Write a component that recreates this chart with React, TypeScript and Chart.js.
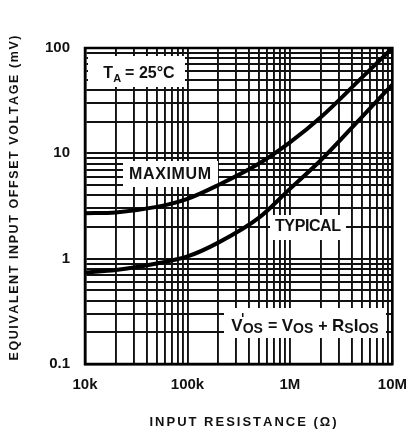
import React, { useEffect, useRef } from "react";
import { Chart, registerables } from "chart.js";

Chart.register(...registerables);

// Input resistance (Ω) sample points
const RESISTANCE = [1e4, 2e4, 5e4, 1e5, 2e5, 5e5, 1e6, 2e6, 5e6, 1e7];
// Equivalent input offset voltage (mV)
const MAXIMUM = [2.7, 2.75, 3.1, 3.7, 5.0, 8.0, 12.7, 22, 52, 100];
const TYPICAL = [0.74, 0.78, 0.9, 1.05, 1.42, 2.45, 4.6, 8.6, 22, 45];

const X_TICKS = [
  10000, 20000, 30000, 40000, 50000, 60000, 70000, 80000, 90000,
  100000, 200000, 300000, 400000, 500000, 600000, 700000, 800000, 900000,
  1000000, 2000000, 3000000, 4000000, 5000000, 6000000, 7000000, 8000000, 9000000,
  10000000,
];
const X_LABELS: Record<string, string> = {
  "10000": "10k",
  "100000": "100k",
  "1000000": "1M",
  "10000000": "10M",
};
const Y_TICKS = [
  0.1, 0.2, 0.3, 0.4, 0.5, 0.6, 0.7, 0.8, 0.9,
  1, 2, 3, 4, 5, 6, 7, 8, 9,
  10, 20, 30, 40, 50, 60, 70, 80, 90,
  100,
];
const Y_LABELS: Record<string, string> = { "0.1": "0.1", "1": "1", "10": "10", "100": "100" };

const X_TITLE = "INPUT RESISTANCE (\u03A9)";
const Y_TITLE = "EQUIVALENT INPUT OFFSET VOLTAGE (mV)";
const LABEL_MAX = "MAXIMUM";
const LABEL_TYP = "TYPICAL";

const FONT = '"Liberation Sans", Arial, sans-serif';

function drawSpaced(ctx: CanvasRenderingContext2D, text: string, cx: number, cy: number, target: number) {
  const chars = [...text];
  const widths = chars.map((c) => ctx.measureText(c).width);
  const natural = widths.reduce((a, b) => a + b, 0);
  const sp = chars.length > 1 ? (target - natural) / (chars.length - 1) : 0;
  let x = cx - target / 2;
  ctx.textAlign = "left";
  ctx.textBaseline = "middle";
  chars.forEach((c, i) => {
    ctx.fillText(c, x, cy);
    x += widths[i] + sp;
  });
}

type Seg = { t: string; size: number; dy: number; sp?: number };

function drawSegs(ctx: CanvasRenderingContext2D, segs: Seg[], cx: number, baseY: number) {
  const measure = (s: Seg) => {
    ctx.font = `bold ${s.size}px ${FONT}`;
    return ctx.measureText(s.t).width + (s.sp || 0);
  };
  const total = segs.reduce((a, s) => a + measure(s), 0);
  let x = cx - total / 2;
  ctx.textAlign = "left";
  ctx.textBaseline = "alphabetic";
  for (const s of segs) {
    ctx.font = `bold ${s.size}px ${FONT}`;
    ctx.fillText(s.t, x, baseY + s.dy);
    x += measure(s);
  }
}

const annotationPlugin = {
  id: "annotations",
  beforeDatasetsDraw(chart: any) {
    const ctx: CanvasRenderingContext2D = chart.ctx;
    const a = chart.chartArea;
    ctx.save();
    // outer frame
    ctx.strokeStyle = "#000";
    ctx.lineWidth = 2.5;
    ctx.strokeRect(a.left, a.top, a.right - a.left, a.bottom - a.top);

    ctx.fillStyle = "#fff";
    ctx.fillRect(88, 56, 97, 31);
    ctx.fillRect(123, 161, 95, 26);
    ctx.fillRect(270, 215, 76, 25);
    ctx.fillRect(224, 308, 162, 30);

    ctx.fillStyle = "#111";
    drawSegs(
      ctx,
      [
        { t: "T", size: 16, dy: 0, sp: 0 },
        { t: "A", size: 11, dy: 4, sp: 4 },
        { t: "= 25\u00B0C", size: 16, dy: 0 },
      ],
      139,
      78
    );
    ctx.font = `bold 16px ${FONT}`;
    drawSpaced(ctx, LABEL_MAX, 170, 175, 82);
    drawSpaced(ctx, LABEL_TYP, 308, 227, 66);

    drawSegs(
      ctx,
      [
        { t: "V", size: 17, dy: 0 },
        { t: "OS", size: 14, dy: 2, sp: 5 },
        { t: "= ", size: 16, dy: 0 },
        { t: "V", size: 17, dy: 0 },
        { t: "OS", size: 14, dy: 2, sp: 5 },
        { t: "+ ", size: 16, dy: 0 },
        { t: "R", size: 17, dy: 0 },
        { t: "S", size: 14, dy: 2 },
        { t: "I", size: 17, dy: 0 },
        { t: "OS", size: 14, dy: 2 },
      ],
      305,
      331
    );
    // prime mark on first V
    ctx.fillRect(242, 313, 1.5, 4);
    ctx.restore();
  },
  afterDraw(chart: any) {
    const ctx: CanvasRenderingContext2D = chart.ctx;
    ctx.save();
    ctx.fillStyle = "#111";
    ctx.font = `bold 12.5px ${FONT}`;
    ctx.translate(15, 198);
    ctx.rotate(-Math.PI / 2);
    drawSpaced(ctx, Y_TITLE, 0, 0, 325);
    ctx.restore();

    ctx.save();
    ctx.fillStyle = "#111";
    ctx.font = `bold 13px ${FONT}`;
    drawSpaced(ctx, X_TITLE, 243, 422, 187);
    ctx.restore();
  },
};

export default function App() {
  const ref = useRef<HTMLCanvasElement | null>(null);

  useEffect(() => {
    document.body.style.margin = "0";
    const canvas = ref.current;
    if (!canvas) return;
    const chart = new Chart(canvas, {
      type: "line",
      data: {
        labels: RESISTANCE,
        datasets: [
          {
            label: LABEL_MAX,
            data: RESISTANCE.map((x, i) => ({ x, y: MAXIMUM[i] })),
            borderColor: "#000",
            borderWidth: 4,
            pointRadius: 0,
            cubicInterpolationMode: "monotone",
            fill: false,
          },
          {
            label: LABEL_TYP,
            data: RESISTANCE.map((x, i) => ({ x, y: TYPICAL[i] })),
            borderColor: "#000",
            borderWidth: 4,
            pointRadius: 0,
            cubicInterpolationMode: "monotone",
            fill: false,
          },
        ],
      },
      options: {
        responsive: false,
        animation: false,
        devicePixelRatio: 1,
        layout: { padding: { top: 48, right: 12, left: 0, bottom: 0 } },
        plugins: {
          legend: { display: false },
          tooltip: { enabled: false },
        },
        scales: {
          x: {
            type: "logarithmic",
            min: 1e4,
            max: 1e7,
            afterBuildTicks: (scale: any) => {
              scale.ticks = X_TICKS.map((v) => ({ value: v }));
            },
            afterFit: (scale: any) => {
              scale.height = 72;
            },
            grid: { color: "#111", lineWidth: 1.9, drawTicks: false },
            border: { display: true, color: "#000", width: 2.5 },
            ticks: {
              autoSkip: false,
              maxRotation: 0,
              padding: 12,
              color: "#111",
              font: { family: FONT, size: 15, weight: "bold" },
              callback: (v: any) => X_LABELS[String(v)] ?? "",
            },
          },
          y: {
            type: "logarithmic",
            min: 0.1,
            max: 100,
            afterBuildTicks: (scale: any) => {
              scale.ticks = Y_TICKS.map((v) => ({ value: v }));
            },
            afterFit: (scale: any) => {
              scale.width = 85;
            },
            grid: { color: "#111", lineWidth: 1.9, drawTicks: false },
            border: { display: true, color: "#000", width: 2.5 },
            ticks: {
              autoSkip: false,
              padding: 15,
              color: "#111",
              font: { family: FONT, size: 15, weight: "bold" },
              callback: (v: any) => Y_LABELS[String(v)] ?? "",
            },
          },
        },
      } as any,
      plugins: [annotationPlugin],
    });
    return () => chart.destroy();
  }, []);

  return (
    <canvas
      ref={ref}
      width={419}
      height={436}
      style={{ display: "block", width: 419, height: 436 }}
    />
  );
}
